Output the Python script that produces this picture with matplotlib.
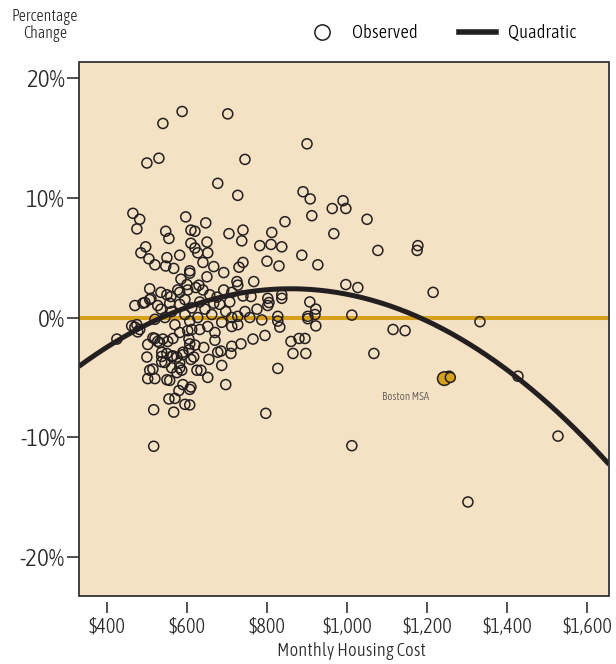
import numpy as np
import matplotlib
matplotlib.use("Agg")
import matplotlib.pyplot as plt
from matplotlib import font_manager
from matplotlib.lines import Line2D
from matplotlib.patches import Rectangle
from matplotlib.ticker import FuncFormatter


def weight_num(w):
    return w if isinstance(w, int) else font_manager.weight_dict.get(w, 400)


# prefer the lightest upright narrow face that is installed
narrow = [f for f in font_manager.fontManager.ttflist
          if ('Narrow' in f.name or 'Condensed' in f.name) and f.style == 'normal'
          and weight_num(f.weight) >= 300]
narrow.sort(key=lambda f: weight_num(f.weight))
if narrow:
    plt.rcParams['font.family'] = [narrow[0].name, 'DejaVu Sans']
    plt.rcParams['font.weight'] = weight_num(narrow[0].weight)
    small = 1.0
else:
    plt.rcParams['font.family'] = ['DejaVu Sans']
    small = 0.8

# metro areas: monthly housing cost ($) vs percentage change
cost = [588, 702, 540, 900, 530, 500, 745, 677, 727, 890, 908, 963, 990, 997, 1050,
        1177, 1175, 1077, 997, 1027, 1215, 1012, 1332, 1115, 1145, 1067, 1255, 1427,
        1527, 1012, 1302, 517, 797, 567, 517, 827, 697, 652,
        912, 845, 967, 465, 482, 475, 597, 647, 547, 555, 610, 620, 705, 740, 737, 812,
        610, 650, 497, 485, 505, 520, 550, 582, 620, 627, 652, 640, 782, 810, 837, 800,
        830, 887, 927, 740, 667, 547, 692, 730, 567, 607, 607, 650, 585, 725, 727, 767,
        712, 740, 802, 805, 802, 837, 837, 775, 907, 922, 920, 902, 727, 827,
        507, 600, 630, 577, 535, 550, 470, 490, 510, 560, 582, 602, 622, 640, 657, 675,
        495, 507, 462, 475, 470, 477, 425,
        482, 502, 515, 532, 540, 552, 565, 582, 602, 632, 652, 670, 670, 607, 620, 642,
        590, 565, 537, 500, 537, 617, 610, 655, 677, 582, 562, 587, 507, 515, 502, 520,
        550, 557, 625, 635, 575, 590, 607, 580, 555, 570, 595, 607, 610,
        765, 795, 735, 712, 710, 685, 687, 860, 880, 895, 865, 897, 922, 902, 827, 832,
        727, 712, 612, 605, 605, 590, 550, 520, 527, 545, 537, 562, 575, 582, 687,
        535, 545, 562, 582, 595, 612, 627, 645, 662, 682, 697, 712, 745, 757, 520, 570,
        607, 632, 667, 707, 692, 595, 557, 527, 787, 760]
change = [17.2, 17.0, 16.2, 14.5, 13.3, 12.9, 13.2, 11.2, 10.2, 10.5, 9.9, 9.1, 9.75, 9.1, 8.2,
          6.0, 5.6, 5.6, 2.75, 2.5, 2.1, 0.2, -0.35, -1.0, -1.1, -3.0, -4.9, -4.9,
          -9.9, -10.7, -15.4, -10.75, -8.0, -7.9, -7.7, -4.25, -5.6, -5.0,
          8.5, 8.0, 7.0, 8.7, 8.2, 7.4, 8.4, 7.9, 7.2, 6.6, 7.3, 7.2, 7.0, 7.3, 6.4, 7.1,
          6.2, 6.3, 5.9, 5.4, 4.9, 4.4, 5.0, 5.2, 5.8, 5.4, 5.4, 4.6, 6.0, 6.1, 5.9, 4.7,
          4.3, 5.2, 4.4, 4.6, 4.25, 4.3, 3.75, 4.2, 4.1, 3.9, 3.7, 3.4, 3.2, 3.0, 2.7, 3.0,
          2.1, 1.8, 1.6, 1.25, 1.0, 1.9, 1.6, 0.7, 1.3, 0.7, 0.25, 0.1, 0.1, 0.1,
          2.4, 2.75, 2.7, 2.3, 2.1, 1.9, 1.0, 1.2, 1.6, 1.75, 2.1, 2.3, 2.5, 2.3, 1.9, 1.7,
          1.25, 1.5, -0.7, -0.6, -0.8, -1.2, -1.8,
          -1.0, -2.25, -1.7, -2.1, -1.8, -2.0, -1.75, -1.25, -1.1, -1.0, -0.75, -1.25, -1.9, -2.2, -2.3, -2.5,
          -2.9, -3.2, -2.9, -3.3, -3.7, -3.3, -3.5, -3.5, -2.9, -3.8, -4.2, -4.4, -4.4, -4.3, -5.1, -5.1,
          -5.2, -5.25, -4.4, -4.4, -4.6, -5.6, -6.0, -6.1, -6.8, -6.75, -7.25, -7.3, -5.8,
          -1.8, -1.5, -2.2, -2.4, -3.0, -2.8, -4.0, -2.0, -1.75, -1.75, -3.0, -3.0, -0.7, -0.1, -0.3, -0.8,
          -0.6, -0.75, -1.0, -1.8, -2.7, -3.1, -3.0, -1.75, -2.0, -3.75, -3.25, -3.25, -3.3, -4.2, -0.4,
          0.7, 0.0, 0.5, 1.1, 0.25, 0.8, 0.0, 0.7, 0.25, 1.1, 0.5, 0.0, 0.5, 0.0, -0.15, -0.6,
          -0.3, 1.3, 1.2, 1.3, 2.3, 1.5, 1.2, 1.0, -0.2, 1.75]

boston_cost = [1243, 1258]
boston_change = [-5.1, -5.0]

# quadratic fit, vertex form
fit_peak_cost = 859
fit_peak_change = 2.4
fit_curvature = -2.316e-5

cream = '#F5E1C3'
gold = '#D6A01A'
ink = '#231F20'
txt = '#2a2a2a'

fig = plt.figure(figsize=(6.16, 6.64), dpi=100)
ax = fig.add_axes([0.128, 0.1024, 0.861, 0.8042])
ax.set_facecolor(cream)
ax.set_xlim(330, 1655)
ax.set_ylim(-23.25, 21.33)

ax.axhline(0, color=gold, lw=2.9, zorder=2)

ax.scatter(cost, change, s=52, facecolors='none', edgecolors=ink, linewidths=1.1, zorder=3)
ax.scatter(boston_cost, boston_change, s=[95, 52], facecolors=gold, edgecolors=ink,
           linewidths=1.1, zorder=4)
ax.text(1147, -6.6, 'Boston MSA', fontsize=8 * small, color='#555555',
        ha='center', va='center')

xs = np.linspace(330, 1655, 300)
ys = fit_peak_change + fit_curvature * (xs - fit_peak_cost) ** 2
ax.plot(xs, ys, color=ink, lw=3.6, zorder=5, solid_capstyle='butt')

# frame drawn as a patch so the x ticks can sit detached below it
for s in ax.spines.values():
    s.set_visible(False)
ax.spines['bottom'].set_position(('outward', 4))
ax.add_patch(Rectangle((0, 0), 1, 1, transform=ax.transAxes, fill=False,
                       edgecolor='#333333', lw=1.3, zorder=6, clip_on=False))

ax.set_xticks([400, 600, 800, 1000, 1200, 1400, 1600])
ax.set_yticks([-20, -10, 0, 10, 20])
ax.xaxis.set_major_formatter(FuncFormatter(lambda v, p: '${:,.0f}'.format(v)))
ax.yaxis.set_major_formatter(FuncFormatter(lambda v, p: '{:.0f}%'.format(v)))
ax.tick_params(axis='x', direction='out', length=8, width=1.2, color='#333333',
               labelsize=14.5 * small, pad=3, labelcolor=txt)
ax.tick_params(axis='y', direction='out', length=9, width=1.2, color='#333333',
               labelsize=18 * small, pad=1, labelcolor=txt)

fig.text(0.570, 0.019, 'Monthly Housing Cost', fontsize=13.5 * small, color=txt,
         ha='center', va='center')
fig.text(0.073, 0.963, 'Percentage\nChange', fontsize=11.5 * small, ha='center', va='center',
         color=txt, linespacing=1.0)

handles = [Line2D([], [], marker='o', ls='', ms=11, mfc='none', mec=ink, mew=1.1),
           Line2D([], [], color=ink, lw=4)]
ax.legend(handles, ['Observed', 'Quadratic'], loc='center right',
          bbox_to_anchor=(0.937, 1.054), ncol=2, frameon=False, fontsize=13.5 * small,
          handlelength=2.0, columnspacing=2.2, handletextpad=0.6,
          borderaxespad=0, borderpad=0)

fig.savefig('out.png', dpi=100, facecolor='white')
